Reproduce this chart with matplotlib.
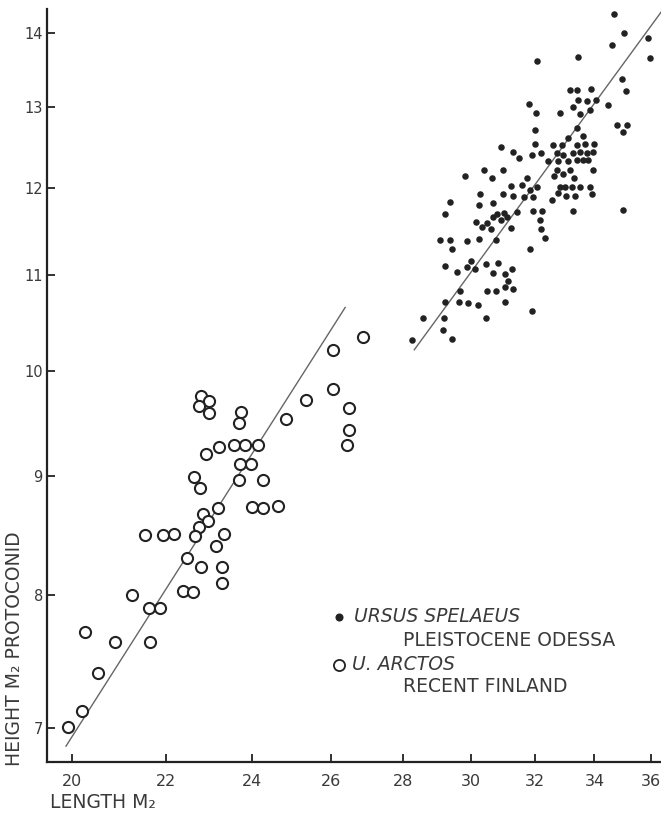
import matplotlib
matplotlib.use("Agg")
import matplotlib.pyplot as plt
from matplotlib.ticker import NullLocator, FixedLocator, FixedFormatter

# ---------------- data ----------------
# U. arctos, recent Finland (open circles)
arctos_length = [26.87, 26.07, 26.06, 25.36, 26.48, 24.84, 26.48, 26.45, 22.79, 22.98,
                 22.75, 22.97, 23.75, 23.69, 23.22, 22.90, 23.57, 23.83, 24.14, 23.72,
                 23.97, 23.70, 24.27, 22.62, 22.76, 23.18, 24.01, 24.28, 24.65, 22.84,
                 22.96, 22.74, 21.53, 21.94, 22.18, 22.66, 23.34, 23.14, 22.47, 22.79,
                 23.29, 23.28, 22.38, 22.60, 21.24, 21.63, 21.86, 20.26, 20.89, 21.64,
                 20.52, 20.20, 19.91]
arctos_height = [10.34, 10.21, 9.82, 9.71, 9.63, 9.53, 9.43, 9.29, 9.75, 9.70,
                 9.65, 9.59, 9.60, 9.49, 9.27, 9.20, 9.29, 9.29, 9.29, 9.11,
                 9.11, 8.97, 8.97, 8.99, 8.90, 8.72, 8.73, 8.72, 8.74, 8.67,
                 8.61, 8.56, 8.49, 8.49, 8.50, 8.48, 8.50, 8.40, 8.30, 8.22,
                 8.22, 8.09, 8.03, 8.02, 8.00, 7.89, 7.89, 7.71, 7.63, 7.63,
                 7.40, 7.12, 7.01]

# Ursus spelaeus, Pleistocene Odessa (filled dots)
spelaeus_length = [34.68, 35.05, 34.62, 35.89, 35.97, 32.08, 33.43, 34.98, 35.11, 33.17,
                   33.41, 33.87, 33.45, 33.73, 34.05, 31.82, 32.03, 32.83, 33.26, 33.50,
                   33.85, 34.48, 34.78, 35.13, 35.01, 32.01, 33.39, 30.92, 31.29, 31.50,
                   31.92, 32.01, 32.20, 32.44, 32.61, 32.89, 33.11, 33.60, 33.39, 33.68,
                   33.99, 32.72, 32.94, 33.28, 33.50, 33.73, 33.96, 33.39, 33.62, 33.79,
                   32.77, 33.11, 32.72, 33.17, 33.96, 32.92, 32.63, 33.30, 30.40, 30.99,
                   30.63, 31.74, 32.83, 33.00, 33.22, 33.50, 33.85, 32.77, 33.03, 33.33,
                   33.91, 32.55, 33.26, 35.01, 29.81, 30.27, 30.68, 30.99, 31.24, 31.31,
                   31.58, 31.65, 31.84, 31.93, 32.07, 31.42, 31.93, 32.23, 32.17, 32.20,
                   32.33, 31.24, 30.76, 31.84, 30.14, 30.32, 30.49, 30.60, 30.66, 30.79,
                   30.92, 31.01, 31.11, 29.36, 29.21, 30.24, 29.06, 29.36, 29.43, 29.88,
                   30.24, 29.21, 29.56, 29.86, 29.98, 30.11, 30.45, 30.83, 30.68, 31.05,
                   31.26, 31.15, 31.05, 31.31, 30.49, 30.76, 29.66, 29.21, 29.64, 29.91,
                   30.20, 31.05, 28.55, 29.19, 30.45, 31.90, 29.14, 29.41, 28.24]
spelaeus_height = [14.27, 14.00, 13.84, 13.93, 13.65, 13.62, 13.67, 13.38, 13.21, 13.23,
                   13.23, 13.24, 13.10, 13.09, 13.10, 13.04, 12.93, 12.93, 13.01, 12.92,
                   12.97, 13.03, 12.78, 12.78, 12.68, 12.71, 12.73, 12.50, 12.44, 12.36,
                   12.40, 12.53, 12.42, 12.33, 12.52, 12.52, 12.61, 12.64, 12.52, 12.53,
                   12.53, 12.42, 12.40, 12.42, 12.44, 12.42, 12.44, 12.34, 12.34, 12.34,
                   12.32, 12.32, 12.22, 12.22, 12.22, 12.16, 12.14, 12.12, 12.22, 12.22,
                   12.12, 12.12, 12.01, 12.01, 12.01, 12.01, 12.01, 11.94, 11.90, 11.90,
                   11.92, 11.86, 11.72, 11.74, 12.14, 11.92, 11.82, 11.93, 12.02, 11.90,
                   12.03, 11.89, 11.97, 11.89, 12.01, 11.71, 11.72, 11.73, 11.62, 11.52,
                   11.41, 11.53, 11.39, 11.29, 11.60, 11.54, 11.59, 11.52, 11.65, 11.69,
                   11.62, 11.70, 11.65, 11.83, 11.69, 11.80, 11.39, 11.39, 11.29, 11.38,
                   11.40, 11.10, 11.03, 11.09, 11.16, 11.07, 11.12, 11.13, 11.02, 11.01,
                   11.07, 10.94, 10.87, 10.85, 10.83, 10.83, 10.83, 10.71, 10.71, 10.70,
                   10.68, 10.71, 10.54, 10.54, 10.54, 10.61, 10.41, 10.32, 10.31]

# fitted lines (end points, data units)
arctos_fit_x = [19.87, 26.39]
arctos_fit_y = [6.878, 10.65]
spelaeus_fit_x = [28.31, 36.6]
spelaeus_fit_y = [10.21, 14.41]

x_ticks = [20, 22, 24, 26, 28, 30, 32, 34, 36]
x_tick_labels = ["20", "22", "24", "26", "28", "30", "32", "34", "36"]
y_ticks = [7, 8, 9, 10, 11, 12, 13, 14]
y_tick_labels = ["7", "8", "9", "10", "11", "12", "13", "14"]

# ---------------- figure ----------------
W, H = 661, 815
fig = plt.figure(figsize=(W / 100, H / 100), dpi=100)
ink = "#222222"
txt = "#3a3a3a"

def fx(px):
    return px / W

def fy(py):
    return 1 - py / H

ax = fig.add_axes([fx(47), fy(762), fx(661) - fx(47), fy(9) - fy(762)])
ax.set_xscale("log")
ax.set_yscale("log")
ax.set_xlim(19.49, 36.38)
ax.set_ylim(6.77, 14.34)

ax.plot(arctos_fit_x, arctos_fit_y, color="#666666", lw=1.0, zorder=1)
ax.plot(spelaeus_fit_x, spelaeus_fit_y, color="#666666", lw=1.0, zorder=1)

ax.scatter(arctos_length, arctos_height, s=64, facecolor="white",
           edgecolor=ink, linewidths=1.5, zorder=3, clip_on=False)
ax.scatter(spelaeus_length, spelaeus_height, s=22, color=ink,
           linewidths=0, zorder=3, clip_on=False)

for side in ("top", "right"):
    ax.spines[side].set_visible(False)
for side in ("left", "bottom"):
    ax.spines[side].set_linewidth(1.6)
    ax.spines[side].set_color(ink)

ax.xaxis.set_major_locator(FixedLocator(x_ticks))
ax.xaxis.set_major_formatter(FixedFormatter(x_tick_labels))
ax.xaxis.set_minor_locator(NullLocator())
ax.yaxis.set_major_locator(FixedLocator(y_ticks))
ax.yaxis.set_major_formatter(FixedFormatter(y_tick_labels))
ax.yaxis.set_minor_locator(NullLocator())

ax.tick_params(axis="x", direction="in", length=6, width=1.3, color=ink,
               labelsize=11.5, labelcolor=txt, pad=9)
ax.tick_params(axis="y", direction="in", length=6, width=1.3, color=ink,
               labelsize=10.5, labelcolor=txt, pad=3)

# axis titles
fig.text(fx(15), fy(766), "HEIGHT M\u2082 PROTOCONID", rotation=90,
         ha="center", va="bottom", fontsize=13.5, color=txt)
fig.text(fx(50), fy(803), "LENGTH M\u2082", ha="left", va="center",
         fontsize=13.5, color=txt)

# legend
ax.plot([0.476], [1 - (617 - 9) / (762 - 9)], transform=ax.transAxes, marker="o",
        ms=4.8, color=ink, ls="none", clip_on=False)
ax.plot([0.476], [1 - (665 - 9) / (762 - 9)], transform=ax.transAxes, marker="o",
        ms=8, mfc="white", mec=ink, mew=1.3, ls="none", clip_on=False)
fig.text(fx(354), fy(617), "URSUS SPELAEUS", style="italic", ha="left", va="center",
         fontsize=13.5, color=txt)
fig.text(fx(403), fy(640), "PLEISTOCENE ODESSA", ha="left", va="center",
         fontsize=13.5, color=txt)
fig.text(fx(352), fy(665), "U. ARCTOS", style="italic", ha="left", va="center",
         fontsize=13.5, color=txt)
fig.text(fx(403), fy(687), "RECENT FINLAND", ha="left", va="center",
         fontsize=13.5, color=txt)

fig.savefig("out.png", dpi=100, facecolor="white")
